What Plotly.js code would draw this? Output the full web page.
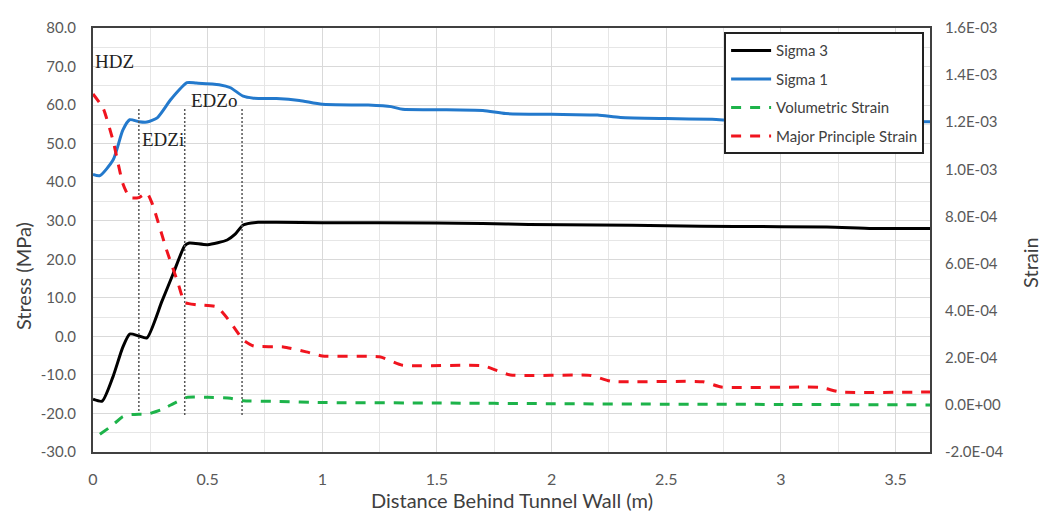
<!DOCTYPE html>
<html><head><meta charset="utf-8">
<script src="https://cdn.plot.ly/plotly-3.0.1.min.js"></script>
<style>html,body{margin:0;padding:0;background:#fff}#chart{width:1043px;height:516px}</style>
</head><body><div id="chart"></div>
<script>
// Sigma 1 (MPa)
var sigma1X = [0,0.03,0.088,0.13,0.16,0.2,0.235,0.28,0.34,0.41,0.45,0.55,0.6,0.655,0.7,0.8,0.9,1.0,1.2,1.3,1.35,1.5,1.7,1.8,2.0,2.2,2.3,2.5,2.7,2.8,3.0,3.3,3.65];
var sigma1Y = [42.0,41.7,45.8,53.5,56.2,55.7,55.6,56.7,61.5,65.8,65.7,65.3,64.5,62.3,61.8,61.7,61.2,60.2,60.0,59.6,58.9,58.8,58.6,57.8,57.6,57.4,56.8,56.5,56.3,56.0,55.9,55.8,55.7];
// Sigma 3 (MPa)
var sigma3X = [0,0.04,0.087,0.13,0.16,0.2,0.235,0.3,0.35,0.4,0.42,0.5,0.585,0.62,0.655,0.72,0.8,1.0,1.5,1.7,1.9,2.2,2.5,2.8,3.2,3.4,3.65];
var sigma3Y = [-16.3,-16.8,-10.5,-2.8,0.6,0.1,-0.4,9.0,16.3,23.5,24.2,23.8,25.0,26.5,28.9,29.6,29.6,29.5,29.4,29.3,29.0,28.9,28.7,28.5,28.4,28.0,28.0];
// Volumetric strain (x1e-3)
var volX = [0.03,0.08,0.13,0.16,0.2,0.235,0.3,0.36,0.41,0.5,0.6,0.655,0.8,1.0,1.5,2.0,2.5,3.0,3.65];
var volY = [-0.125,-0.09,-0.05,-0.042,-0.04,-0.04,-0.02,0.01,0.032,0.032,0.028,0.018,0.015,0.01,0.008,0.005,0.003,0.002,0.0];
// Major principle strain (x1e-3)
var majX = [0,0.044,0.088,0.13,0.16,0.2,0.235,0.26,0.32,0.37,0.4,0.45,0.54,0.6,0.655,0.7,0.83,0.93,1.0,1.25,1.35,1.7,1.82,2.17,2.26,2.66,2.74,3.17,3.26,3.65];
var majY = [1.32,1.26,1.12,0.94,0.88,0.88,0.90,0.85,0.66,0.52,0.435,0.425,0.416,0.35,0.276,0.25,0.246,0.225,0.208,0.204,0.168,0.166,0.127,0.125,0.10,0.098,0.076,0.074,0.055,0.055];
// Zone boundaries
var zoneX = [0.2, 0.4, 0.65];
var zoneTop = 59.0, zoneBottom = -20.5;
var zoneLabels = ["HDZ", "EDZi", "EDZo"];
var zoneLabelX = [0.0, 0.205, 0.42];
var zoneLabelY = [71.2, 51.0, 61.3];
// Tick labels
var stressTicks = [-30,-20,-10,0,10,20,30,40,50,60,70,80];
var stressTickText = ["-30.0","-20.0","-10.0","0.0","10.0","20.0","30.0","40.0","50.0","60.0","70.0","80.0"];
var strainTicks = [-0.2,0,0.2,0.4,0.6,0.8,1.0,1.2,1.4,1.6];
var strainTickText = ["-2.0E-04","0.0E+00","2.0E-04","4.0E-04","6.0E-04","8.0E-04","1.0E-03","1.2E-03","1.4E-03","1.6E-03"];
var xTitle = "Distance Behind Tunnel Wall (m)";
var yTitle = "Stress (MPa)";
var y2Title = "Strain";

var scale = 1e-3;
var traces = [
  {x: sigma3X, y: sigma3Y, name: "Sigma 3", mode: "lines", line: {color: "#000000", width: 3, shape: "spline", smoothing: 0.6}, legendgroup: "a"},
  {x: sigma1X, y: sigma1Y, name: "Sigma 1", mode: "lines", line: {color: "#2379cc", width: 3, shape: "spline", smoothing: 0.6}, legendgroup: "b"},
  {x: volX, y: volY.map(function(v){return v*scale;}), name: "Volumetric Strain", mode: "lines", yaxis: "y2", line: {color: "#1db34a", width: 3, dash: "10px,9px", shape: "spline", smoothing: 0.5}, legendgroup: "c"},
  {x: majX, y: majY.map(function(v){return v*scale;}), name: "Major Principle Strain", mode: "lines", yaxis: "y2", line: {color: "#f0141e", width: 3, dash: "10px,9px", shape: "spline", smoothing: 0.5}, legendgroup: "d"}
];
zoneX.forEach(function(zx){
  traces.push({x: [zx, zx], y: [zoneTop, zoneBottom], mode: "lines", showlegend: false, hoverinfo: "skip",
    line: {color: "#555555", width: 1.5, dash: "2px,2px"}});
});

var annotations = zoneLabels.map(function(t, i){
  return {x: zoneLabelX[i], y: zoneLabelY[i], xref: "x", yref: "y", text: t, showarrow: false,
    xanchor: "left", yanchor: "middle", font: {family: "Liberation Serif, DejaVu Serif, serif", size: 19, color: "#222222"}};
});
var titleFont = {family: "Lato, 'Open Sans', sans-serif", size: 20, color: "#404040"};
annotations.push({xref: "paper", yref: "paper", x: -0.0836, y: 0.415, text: yTitle, textangle: -90, showarrow: false,
  xanchor: "center", yanchor: "middle", font: titleFont});
annotations.push({xref: "paper", yref: "paper", x: 1.1195, y: 0.446, text: y2Title, textangle: -90, showarrow: false,
  xanchor: "center", yanchor: "middle", font: titleFont});
annotations.push({xref: "paper", yref: "paper", x: 0.5, y: -0.113, text: xTitle, showarrow: false,
  xanchor: "center", yanchor: "middle", font: {family: "Lato, 'Open Sans', sans-serif", size: 20, color: "#404040"}});

var tickFont = {family: "Lato, 'Open Sans', sans-serif", size: 15, color: "#595959"};
var layout = {
  width: 1043, height: 516,
  margin: {l: 93, r: 113, t: 28, b: 64},
  paper_bgcolor: "#ffffff", plot_bgcolor: "#ffffff",
  showlegend: true,
  xaxis: {range: [0, 3.65], tick0: 0, dtick: 0.5, showgrid: true, gridcolor: "#d9d9d9", gridwidth: 1,
    minor: {dtick: 0.25, showgrid: true, gridcolor: "#e6e6e6", gridwidth: 1},
    showline: true, linecolor: "#404040", linewidth: 2, mirror: true, zeroline: false,
    ticks: "", tickfont: {family: "Lato, 'Open Sans', sans-serif", size: 16, color: "#595959"}, ticklabelstandoff: 12},
  yaxis: {range: [-30, 80], tickmode: "array", tickvals: stressTicks, ticktext: stressTickText,
    showgrid: true, gridcolor: "#d9d9d9", gridwidth: 1,
    minor: {dtick: 5, tick0: 0, showgrid: true, gridcolor: "#e6e6e6", gridwidth: 1},
    showline: true, linecolor: "#404040", linewidth: 2, mirror: true, zeroline: false,
    ticks: "", tickfont: tickFont, ticklabelstandoff: 12},
  yaxis2: {range: [-0.2e-3, 1.6e-3], overlaying: "y", side: "right", tickmode: "array",
    tickvals: strainTicks.map(function(v){return v*scale;}), ticktext: strainTickText,
    showgrid: false, zeroline: false, showline: false, ticks: "", tickfont: tickFont, ticklabelstandoff: 14},
  legend: {x: 0.754, y: 0.99, xanchor: "left", yanchor: "top", bgcolor: "#ffffff", bordercolor: "#222222", borderwidth: 2,
    font: {family: "Lato, 'Open Sans', sans-serif", size: 15, color: "#404040"}, traceorder: "grouped", tracegroupgap: 6, itemwidth: 40},
  annotations: annotations
};
Plotly.newPlot("chart", traces, layout, {displayModeBar: false, staticPlot: true});
</script></body></html>
